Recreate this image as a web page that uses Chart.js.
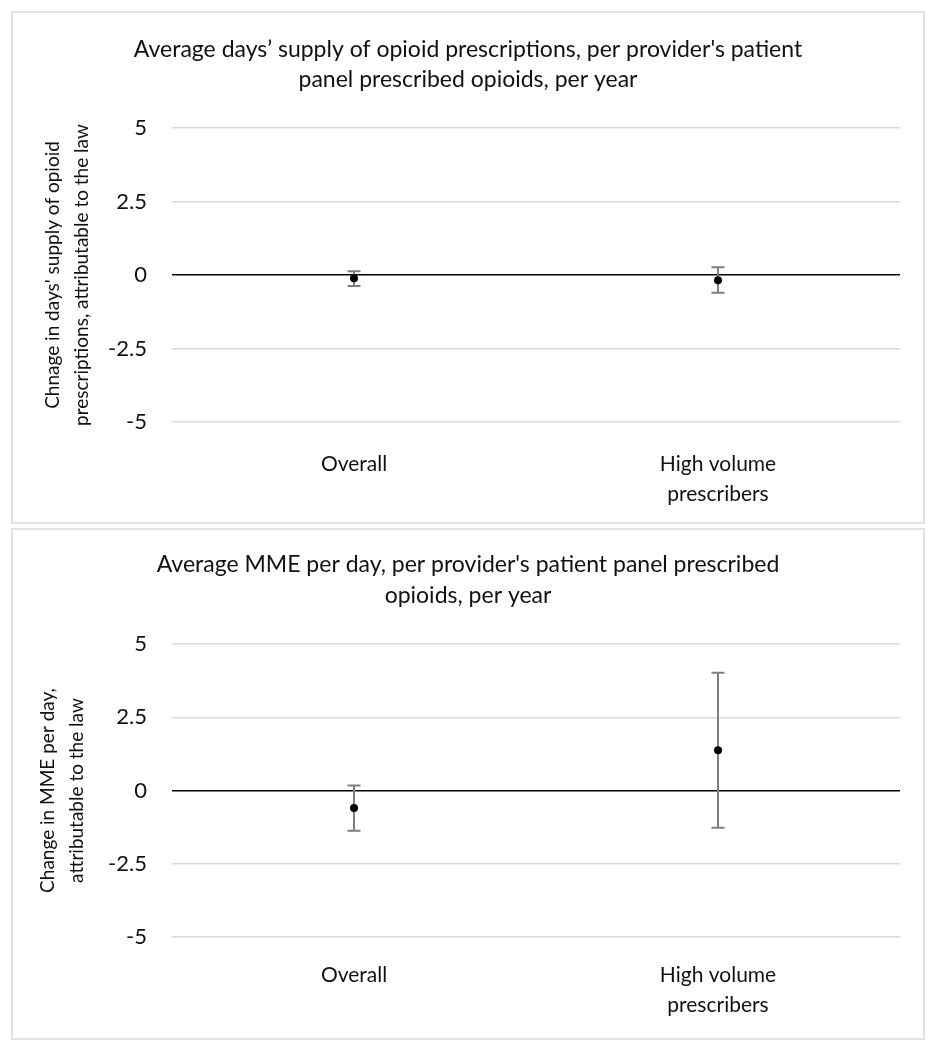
<!DOCTYPE html>
<html>
<head>
<meta charset="utf-8">
<script src="https://cdn.jsdelivr.net/npm/chart.js@4/dist/chart.umd.min.js"></script>
<style>
  body { margin: 0; background: #fff; }
  .panel { position: absolute; left: 11px; width: 910px; border: 2px solid #e2e2e2; background: #fff; }
  #p1 { top: 11px; height: 509px; }
  #p2 { top: 528px; height: 508px; }
  canvas { display: block; }
</style>
</head>
<body>
<div class="panel" id="p1"><canvas id="chart1" width="910" height="509"></canvas></div>
<div class="panel" id="p2"><canvas id="chart2" width="910" height="508"></canvas></div>
<script>
// categories and tick labels
const categories = [['Overall'], ['High volume', 'prescribers']];
const yTicks = [5, 2.5, 0, -2.5, -5];

// chart 1 : days' supply
const daysEstimate = [-0.11, -0.18];
const daysLow = [-0.37, -0.6];
const daysHigh = [0.13, 0.26];

// chart 2 : MME per day
const mmeEstimate = [-0.6, 1.37];
const mmeLow = [-1.37, -1.27];
const mmeHigh = [0.17, 4.02];

const FONT = 'Lato, "Open Sans", sans-serif';

// dessine les barres d'erreur sous les points
const errorBars = {
  id: 'errorBars',
  beforeDatasetsDraw(chart, args, opts) {
    const { ctx, scales: { x, y } } = chart;
    ctx.save();
    ctx.strokeStyle = '#7f7f7f';
    ctx.lineWidth = 2;
    opts.low.forEach((lo, i) => {
      const px = x.getPixelForValue(i);
      const yLo = y.getPixelForValue(lo);
      const yHi = y.getPixelForValue(opts.high[i]);
      ctx.beginPath();
      ctx.moveTo(px, yLo); ctx.lineTo(px, yHi);
      ctx.moveTo(px - 6.5, yLo); ctx.lineTo(px + 6.5, yLo);
      ctx.moveTo(px - 6.5, yHi); ctx.lineTo(px + 6.5, yHi);
      ctx.stroke();
    });
    ctx.restore();
  }
};

function makeChart(id, cfg) {
  return new Chart(document.getElementById(id), {
    type: 'line',
    data: {
      labels: categories,
      datasets: [{
        data: cfg.values,
        showLine: false,
        pointRadius: 4,
        pointBackgroundColor: '#000',
        pointBorderWidth: 0
      }]
    },
    plugins: [errorBars],
    options: {
      responsive: false,
      animation: false,
      plugins: {
        legend: { display: false },
        tooltip: { enabled: false },
        errorBars: { low: cfg.low, high: cfg.high },
        title: {
          display: true,
          text: cfg.title,
          color: '#111',
          font: { family: FONT, size: 23, weight: 'normal', lineHeight: cfg.titleLH },
          padding: cfg.titlePad
        }
      },
      scales: {
        x: {
          offset: true,
          grid: { display: false, drawTicks: false },
          border: { display: false },
          ticks: { color: '#111', padding: cfg.xPad, font: { family: FONT, size: 21, lineHeight: 30 / 21 } },
          afterFit(s) { s.height = cfg.xHeight; }
        },
        y: {
          min: -5, max: 5,
          afterBuildTicks(s) { s.ticks = yTicks.map(v => ({ value: v })); },
          grid: {
            drawTicks: false,
            lineWidth: 1.5,
            color: c => c.tick && c.tick.value === 0 ? '#000' : '#d9d9d9'
          },
          border: { display: false },
          ticks: { color: '#111', padding: 25, font: { family: FONT, size: 22 } },
          title: {
            display: true,
            text: cfg.yTitle,
            color: '#111',
            font: { family: FONT, size: 19, lineHeight: 29 / 19 },
            padding: { top: cfg.yTitlePad, bottom: 0 }
          },
          afterFit(s) { s.width = 159; }
        },
        // marge vide à droite
        yRight: {
          position: 'right',
          min: -5, max: 5,
          grid: { display: false, drawTicks: false },
          border: { display: false },
          ticks: { display: false },
          afterFit(s) { s.width = 23; }
        }
      }
    }
  });
}

makeChart('chart1', {
  values: daysEstimate, low: daysLow, high: daysHigh,
  title: ["Average days\u2019 supply of opioid prescriptions, per provider's patient", "panel prescribed opioids, per year"],
  titleLH: 30 / 23, titlePad: { top: 22, bottom: 33 },
  yTitle: ["Chnage in days' supply of opioid", 'prescriptions, attributable to the law'],
  yTitlePad: 25.5, xPad: 27, xHeight: 100
});

makeChart('chart2', {
  values: mmeEstimate, low: mmeLow, high: mmeHigh,
  title: ["Average MME per day, per provider's patient panel prescribed", 'opioids, per year'],
  titleLH: 31 / 23, titlePad: { top: 19.5, bottom: 32.5 },
  yTitle: ['Change in MME per day,', 'attributable to the law'],
  yTitlePad: 20.5, xPad: 23, xHeight: 101
});
</script>
</body>
</html>
